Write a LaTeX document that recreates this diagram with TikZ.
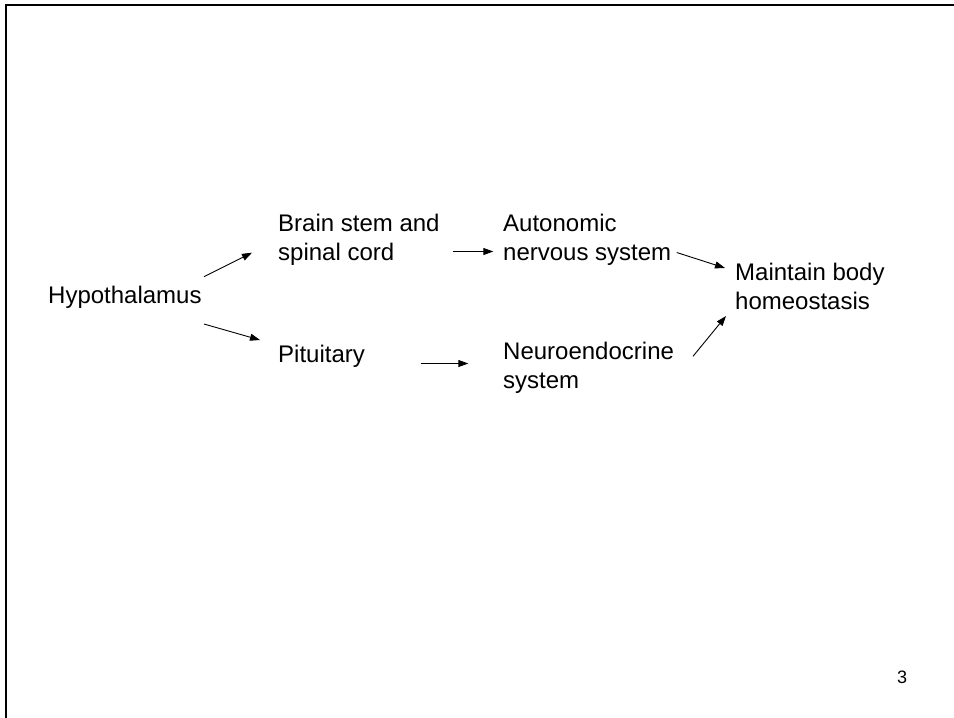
\documentclass[tikz,border=0pt]{standalone}
\usepackage{fontspec}
\setmainfont{Liberation Sans}
\usetikzlibrary{arrows.meta}
\begin{document}
\begin{tikzpicture}[x=1pt,y=-1pt,
  lbl/.style={anchor=base west,inner sep=0pt,align=left,
    font=\fontsize{24}{28.8}\selectfont},
  arr/.style={-{Triangle[length=10pt,width=7pt]},line width=0.9pt}]
\useasboundingbox (0,0) rectangle (954,718);
\draw[line width=2.2pt] (6,718) -- (6,5.2) -- (954,5.2);
% base west of a multi-line node = baseline of its last line
\node[lbl] (hyp) at (48,303.5) {Hypothalamus};
\node[lbl] (brain) at (278,260.7) {Brain stem and\\spinal cord};
\node[lbl] (pit) at (278,362) {Pituitary};
\node[lbl] (auto) at (503,260.7) {Autonomic\\nervous system};
\node[lbl] (neuro) at (503,388.5) {Neuroendocrine\\system};
\node[lbl] (main) at (735,309) {Maintain body\\homeostasis};
\node[anchor=base west,inner sep=0pt,font=\fontsize{18}{21}\selectfont] (pg) at (897,683) {3};
\draw[arr] ([shift={(156,-26.8)}]hyp.base west) -- ([shift={(-26,-8)}]brain.base west);
\draw[arr] ([shift={(156,20.5)}]hyp.base west) -- ([shift={(-18,-22)}]pit.base west);
\draw[arr] ([shift={(175.3,-9.2)}]brain.base west) -- ([shift={(-9.7,-9.2)}]auto.base west);
\draw[arr] ([shift={(142.7,1.5)}]pit.base west) -- ([shift={(-34.7,-25)}]neuro.base west);
\draw[arr] ([shift={(173.7,-8.2)}]auto.base west) -- ([shift={(-10,-41)}]main.base west);
\draw[arr] ([shift={(190,-32.2)}]neuro.base west) -- ([shift={(-9,7)}]main.base west);
\end{tikzpicture}
\end{document}
